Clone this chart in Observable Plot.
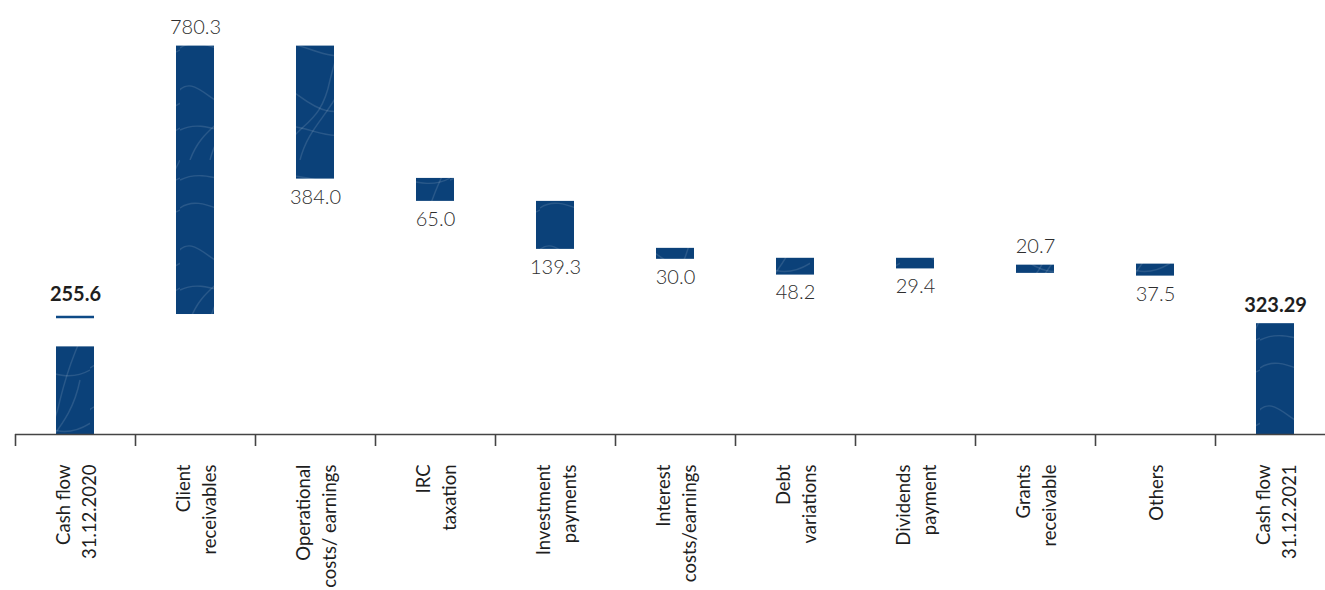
<!DOCTYPE html>
<html>
<head>
<meta charset="utf-8">
<script src="https://cdn.jsdelivr.net/npm/d3@7"></script>
<script src="https://cdn.jsdelivr.net/npm/@observablehq/plot@0.6"></script>
<style>
  html, body { margin: 0; padding: 0; background: #fff; overflow: hidden; }
  #chart { width: 1325px; height: 590px; overflow: hidden; }
</style>
</head>
<body>
<div id="chart"></div>
<script>
// Categories (x axis labels, two lines)
const categories = [
  "Cash flow\n31.12.2020", "Client\nreceivables", "Operational\ncosts/ earnings",
  "IRC\ntaxation", "Investment\npayments", "Interest\ncosts/earnings",
  "Debt\nvariations", "Dividends\npayment", "Grants\nreceivable", "Others",
  "Cash flow\n31.12.2021"
];
// Printed values
const valueLabels = ["255.6", "780.3", "384.0", "65.0", "139.3", "30.0", "48.2", "29.4", "20.7", "37.5", "323.29"];
// Bar start / end levels as drawn
const barFrom = [0, 350, 1133, 747, 680, 543, 514, 514, 470, 497, 0];
const barTo   = [255.6, 1133, 745, 680, 540, 511, 465, 483, 494, 462, 323.29];
// Which bars are totals
const isTotal = [true, false, false, false, false, false, false, false, false, false, true];
// Opening level marker drawn above the first bar
const openingLevel = 343;

const rows = categories.map((c, i) => ({
  cat: c,
  from: barFrom[i],
  to: barTo[i],
  label: valueLabels[i],
  total: isTotal[i],
  up: barTo[i] >= barFrom[i]
}));

const upLabels = rows.filter((d, i) => i !== 0 && d.up && !d.total);
const totalLabels = rows.filter((d, i) => i !== 0 && d.total);
const downLabels = rows.filter(d => !d.up);
const firstLabel = [{cat: categories[0], y: openingLevel, label: valueLabels[0]}];

const barColor = "#0b4179";

const chart = Plot.plot({
  width: 1325,
  height: 590,
  marginTop: 0,
  marginBottom: 156,
  marginLeft: 15,
  marginRight: -10,
  style: {fontFamily: "Lato, 'Open Sans', sans-serif", background: "#fff", overflow: "hidden"},
  x: {domain: categories, paddingInner: 0.683, paddingOuter: 0.3415, align: 0.5, axis: null, label: null},
  y: {domain: [0, 1266], axis: null},
  marks: [
    Plot.barY(rows, {x: "cat", y1: "from", y2: "to", fill: "url(#waves)"}),
    Plot.tickY(firstLabel, {x: "cat", y: "y", stroke: "#0d4a86", strokeWidth: 2.5}),
    Plot.ruleY([0], {stroke: "#444", strokeWidth: 1.6}),
    Plot.axisX({tickSize: 12, tickFormat: () => "", label: null, dx: -60, stroke: "#444", strokeWidth: 1.6}),
    Plot.text(categories, {
      x: d => d, y: 0, text: d => d, rotate: -90, textAnchor: "end", lineAnchor: "middle",
      dx: -1, dy: 30, fontSize: 18.5, lineHeight: 1.45, fill: "#1e1e1e"
    }),
    Plot.text(upLabels, {
      x: "cat", y: d => Math.max(d.from, d.to), text: "label", dy: -19,
      fontSize: 20, fill: "#2e2e2e", fontWeight: 300
    }),
    Plot.text(totalLabels, {
      x: "cat", y: d => Math.max(d.from, d.to), text: "label", dy: -18,
      fontSize: 20, fill: "#1e1e1e", fontWeight: "bold"
    }),
    Plot.text(downLabels, {
      x: "cat", y: d => Math.min(d.from, d.to), text: "label", dy: 18,
      fontSize: 20, fill: "#2e2e2e", fontWeight: 300
    }),
    Plot.text(firstLabel, {
      x: "cat", y: "y", text: "label", dy: -22, fontSize: 20, fill: "#1e1e1e", fontWeight: "bold"
    })
  ]
});

// Texture pattern for the bars
const ns = "http://www.w3.org/2000/svg";
const defs = document.createElementNS(ns, "defs");
defs.innerHTML = `
  <pattern id="waves" patternUnits="userSpaceOnUse" width="90" height="160">
    <rect width="90" height="160" fill="${barColor}"/>
    <g fill="none" stroke="rgba(255,255,255,0.12)" stroke-width="1.4">
      <path d="M0,20 C30,5 60,35 90,18"/>
      <path d="M0,48 C25,30 55,70 90,50"/>
      <path d="M-5,95 C20,60 40,140 95,100"/>
      <path d="M10,160 C25,120 50,130 60,80 C70,40 80,20 90,0"/>
      <path d="M0,130 C30,115 60,150 90,128"/>
      <path d="M30,160 C40,120 70,110 80,60"/>
    </g>
  </pattern>`;
chart.insertBefore(defs, chart.firstChild);

document.getElementById("chart").appendChild(chart);
</script>
</body>
</html>
